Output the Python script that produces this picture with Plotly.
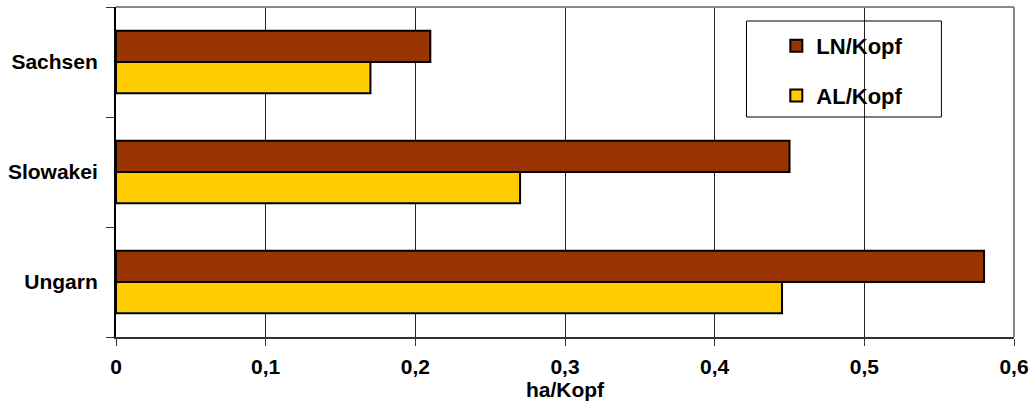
import plotly.graph_objects as go

categories = ["Sachsen", "Slowakei", "Ungarn"]
ln_kopf = [0.21, 0.45, 0.58]
al_kopf = [0.17, 0.27, 0.445]
series_names = ["LN/Kopf", "AL/Kopf"]
tick_vals = [0, 0.1, 0.2, 0.3, 0.4, 0.5, 0.6]
tick_text = ["0", "0,1", "0,2", "0,3", "0,4", "0,5", "0,6"]

FONT = "Liberation Sans, Arial, sans-serif"
FS = 21

fig = go.Figure()
fig.add_trace(go.Bar(
    y=categories, x=ln_kopf, name=series_names[0], orientation="h",
    marker=dict(color="#993300", line=dict(color="#000000", width=2)),
    legendgroup="a",
))
fig.add_trace(go.Bar(
    y=categories, x=al_kopf, name=series_names[1], orientation="h",
    marker=dict(color="#FFCC00", line=dict(color="#000000", width=2)),
    legendgroup="b",
))

fig.update_layout(
    width=1036, height=407,
    margin=dict(l=116, r=17, t=7, b=70),
    paper_bgcolor="white", plot_bgcolor="white",
    barmode="group", bargap=0.43, bargroupgap=0,
    font=dict(family=FONT, size=FS, color="#000000"),
    legend=dict(
        x=(780 - 116) / 903, y=1 - (25 - 7) / 330, xanchor="left", yanchor="top",
        bgcolor="rgba(0,0,0,0)", borderwidth=0,
        font=dict(family=FONT, size=22, color="#000000"),
        tracegroupgap=18, itemclick=False,
    ),
    xaxis=dict(
        range=[0, 0.6], tickvals=tick_vals, ticktext=tick_text,
        showgrid=True, gridcolor="#222222", gridwidth=1,
        showline=True, linecolor="#333333", linewidth=2,
        ticks="outside", ticklen=7, tickcolor="#333333", tickwidth=1,
        ticklabelstandoff=3,
        tickfont=dict(family=FONT, size=FS, color="#000000"),
        title=dict(text="<b>ha/Kopf</b>", font=dict(family=FONT, size=FS), standoff=4),
        zeroline=False, fixedrange=True,
    ),
    yaxis=dict(
        categoryorder="array", categoryarray=categories, autorange="reversed",
        showline=True, linecolor="#000000", linewidth=2,
        ticks="outside", ticklen=8, tickcolor="#333333", tickwidth=1,
        tickson="boundaries", ticklabelstandoff=12,
        tickfont=dict(family=FONT, size=FS, color="#000000"),
        showgrid=False, zeroline=False, fixedrange=True,
    ),
)

# bold tick labels
fig.update_xaxes(ticktext=["<b>%s</b>" % t for t in tick_text])
fig.update_yaxes(tickvals=categories, ticktext=["<b>%s</b>" % c for c in categories])
for tr in fig.data:
    tr.name = "<b>%s</b>" % tr.name

# plot-area border (top and right) and legend box
fig.add_shape(type="line", xref="paper", yref="paper", x0=0, x1=1, y0=1, y1=1,
              line=dict(color="#888888", width=2))
fig.add_shape(type="line", xref="paper", yref="paper", x0=1, x1=1, y0=0, y1=1,
              line=dict(color="#888888", width=2))
fig.add_shape(type="rect", xref="paper", yref="paper",
              x0=(750 - 116) / 903, x1=(946 - 116) / 903,
              y0=1 - (117 - 7) / 330, y1=1 - (21 - 7) / 330,
              line=dict(color="#000000", width=1), fillcolor="rgba(0,0,0,0)")

fig.write_html("out.html")
